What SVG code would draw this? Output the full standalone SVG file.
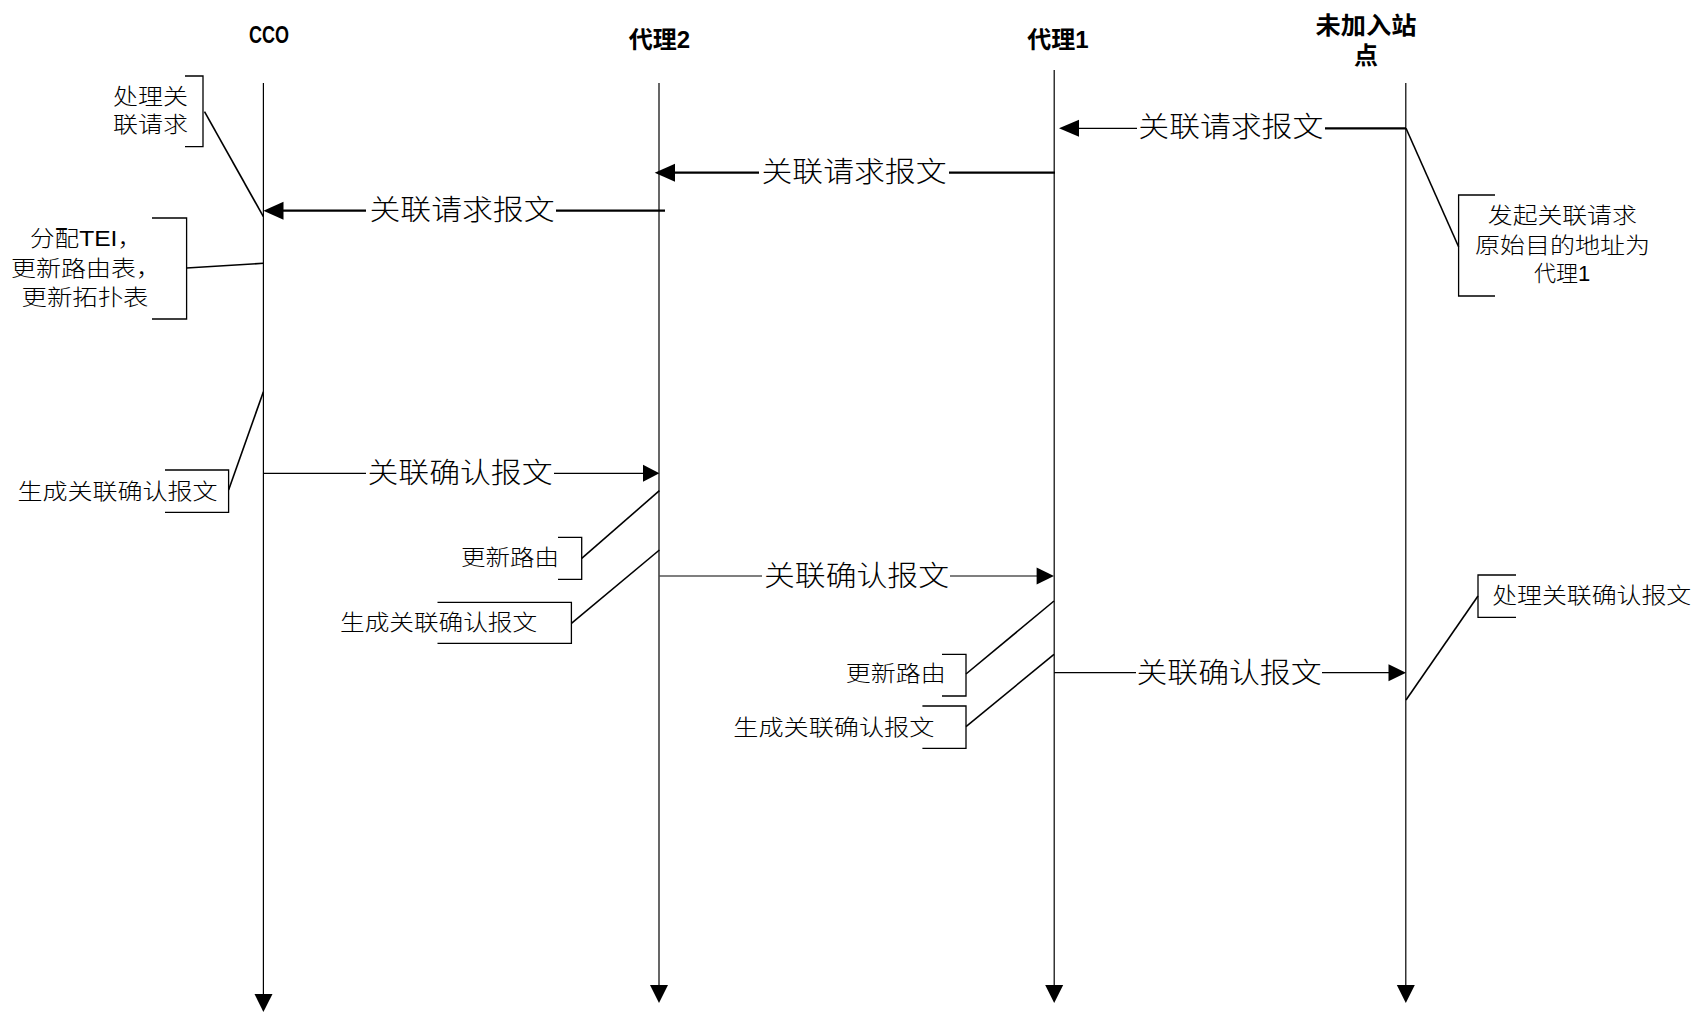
<svg xmlns="http://www.w3.org/2000/svg" width="1699" height="1025" viewBox="0 0 1699 1025">
<style>
.bg{fill:#fff}
.life{stroke:#000;stroke-width:1.2;fill:none}
.hd{font-family:"Liberation Sans","Noto Sans CJK SC",sans-serif;font-weight:bold;font-size:24px;fill:#000;text-anchor:middle}
.lb{font-family:"Liberation Sans","Noto Sans CJK SC",sans-serif;font-weight:300;font-size:22px;fill:#000;text-anchor:middle}
.ml{font-family:"Liberation Sans","Noto Sans CJK SC",sans-serif;font-weight:300;font-size:28px;fill:#000;text-anchor:middle}
.br{stroke:#000;stroke-width:1.3;fill:none}
.cn{stroke:#000;stroke-width:1.6;fill:none}
.thk{stroke:#000;stroke-width:2.2;fill:none}
.thn{stroke:#000;stroke-width:1.2;fill:none}
.ah{fill:#000;stroke:none}
</style>
<rect class="bg" x="0" y="0" width="1699" height="1025"/>

<g id="lifeline-cco">
  <text class="hd" x="269" y="43" font-size="23" textLength="40" lengthAdjust="spacingAndGlyphs">CCO</text>
  <line class="life" x1="263.4" y1="83" x2="263.4" y2="996"/>
  <polygon class="ah" points="254.5,994 272.5,994 263.4,1012"/>
</g>
<g id="lifeline-agent2">
  <text class="hd" x="659.5" y="48">代理2</text>
  <line class="life" x1="659" y1="83" x2="659" y2="987"/>
  <polygon class="ah" points="650,985 668,985 659,1003"/>
</g>
<g id="lifeline-agent1">
  <text class="hd" x="1058" y="48">代理1</text>
  <line class="life" x1="1054.2" y1="70" x2="1054.2" y2="987"/>
  <polygon class="ah" points="1045.2,985 1063.2,985 1054.2,1003"/>
</g>
<g id="lifeline-newsta">
  <text class="hd" x="1366" y="34" textLength="101" lengthAdjust="spacingAndGlyphs">未加入站</text>
  <text class="hd" x="1366" y="64">点</text>
  <line class="life" x1="1405.8" y1="83" x2="1405.8" y2="987"/>
  <polygon class="ah" points="1396.8,985 1414.8,985 1405.8,1003"/>
</g>

<g id="note-cco-process">
  <text class="lb" x="150.5" y="104.4" textLength="75" lengthAdjust="spacingAndGlyphs">处理关</text>
  <text class="lb" x="150.5" y="132.4" textLength="75" lengthAdjust="spacingAndGlyphs">联请求</text>
  <path class="br" d="M185,76 H203 V146.7 H185"/>
</g>
<g id="note-cco-assign">
  <text class="lb" x="86" y="246.4" textLength="112" lengthAdjust="spacingAndGlyphs">分配TEI，</text>
  <text class="lb" x="86" y="276.4" textLength="150" lengthAdjust="spacingAndGlyphs">更新路由表，</text>
  <text class="lb" x="85" y="305.4" textLength="127" lengthAdjust="spacingAndGlyphs">更新拓扑表</text>
  <path class="br" d="M152,218 H186.6 V319 H152"/>
</g>
<g id="note-sta-init">
  <text class="lb" x="1562.3" y="223.4" textLength="149" lengthAdjust="spacingAndGlyphs">发起关联请求</text>
  <text class="lb" x="1562.5" y="253.4" textLength="175" lengthAdjust="spacingAndGlyphs">原始目的地址为</text>
  <text class="lb" x="1562" y="281.4">代理1</text>
  <path class="br" d="M1495,195 H1458.6 V296 H1495"/>
</g>
<g id="note-cco-gen">
  <text class="lb" x="117.6" y="499.4" textLength="200" lengthAdjust="spacingAndGlyphs">生成关联确认报文</text>
  <path class="br" d="M165,470 H228.6 V512.3 H165"/>
</g>
<g id="note-agent2-route">
  <text class="lb" x="510" y="565.4" textLength="98" lengthAdjust="spacingAndGlyphs">更新路由</text>
  <path class="br" d="M558,537.3 H581.7 V579.3 H558"/>
</g>
<g id="note-agent2-gen">
  <text class="lb" x="438.6" y="630.4" textLength="197" lengthAdjust="spacingAndGlyphs">生成关联确认报文</text>
  <path class="br" d="M437.5,602.3 H571.4 V643.3 H437.5"/>
</g>
<g id="note-agent1-route">
  <text class="lb" x="895.7" y="681.4" textLength="100" lengthAdjust="spacingAndGlyphs">更新路由</text>
  <path class="br" d="M942,654.3 H966 V696 H942"/>
</g>
<g id="note-agent1-gen">
  <text class="lb" x="833.8" y="735.4" textLength="201" lengthAdjust="spacingAndGlyphs">生成关联确认报文</text>
  <path class="br" d="M922.4,706 H966 V748.3 H922.4"/>
</g>
<g id="note-sta-process">
  <text class="lb" x="1591.7" y="603.4" textLength="199" lengthAdjust="spacingAndGlyphs">处理关联确认报文</text>
  <path class="br" d="M1516,575 H1478 V617.3 H1516"/>
</g>

<g id="connectors">
  <line class="cn" x1="204.5" y1="111.7" x2="263.4" y2="216.7"/>
  <line class="cn" x1="186.6" y1="268" x2="263.4" y2="263.3"/>
  <line class="cn" x1="1406" y1="128.3" x2="1458.6" y2="246.7"/>
  <line class="cn" x1="228.6" y1="490" x2="263.4" y2="391.7"/>
  <line class="cn" x1="581.7" y1="558.3" x2="659.4" y2="490.7"/>
  <line class="cn" x1="571.4" y1="623.3" x2="659.4" y2="550"/>
  <line class="cn" x1="966" y1="674" x2="1054" y2="601"/>
  <line class="cn" x1="966" y1="726.7" x2="1054" y2="654.3"/>
  <line class="cn" x1="1406" y1="700" x2="1478" y2="596"/>

  <line class="thk" x1="1406" y1="128.3" x2="1325" y2="128.3"/>
  <line class="thn" x1="1137" y1="128.3" x2="1078" y2="128.3"/>
  <polygon class="ah" points="1059,128.3 1079,119.8 1079,136.8"/>
  <text class="ml" x="1230.8" y="137" textLength="185" lengthAdjust="spacingAndGlyphs">关联请求报文</text>

  <line class="thk" x1="1055" y1="172.7" x2="949" y2="172.7"/>
  <line class="thk" x1="759" y1="172.7" x2="674" y2="172.7"/>
  <polygon class="ah" points="654.7,172.7 675,163.7 675,181.7"/>
  <text class="ml" x="854" y="182" textLength="185" lengthAdjust="spacingAndGlyphs">关联请求报文</text>

  <line class="thk" x1="665" y1="210.7" x2="556" y2="210.7"/>
  <line class="thk" x1="366" y1="210.7" x2="282" y2="210.7"/>
  <polygon class="ah" points="263.4,210.7 283.5,201.7 283.5,219.7"/>
  <text class="ml" x="462" y="220" textLength="185" lengthAdjust="spacingAndGlyphs">关联请求报文</text>

  <line class="thn" x1="263.4" y1="473.3" x2="366" y2="473.3"/>
  <line class="thn" x1="554" y1="473.3" x2="644" y2="473.3"/>
  <polygon class="ah" points="659.4,473.3 643,464.8 643,481.8"/>
  <text class="ml" x="460" y="483" textLength="185" lengthAdjust="spacingAndGlyphs">关联确认报文</text>

  <line class="thn" x1="659.6" y1="576" x2="762" y2="576"/>
  <line class="thn" x1="950" y1="576" x2="1037" y2="576"/>
  <polygon class="ah" points="1054,576 1036.6,567.5 1036.6,584.5"/>
  <text class="ml" x="856.5" y="586" textLength="185" lengthAdjust="spacingAndGlyphs">关联确认报文</text>

  <line class="thn" x1="1054.2" y1="672.7" x2="1136" y2="672.7"/>
  <line class="thn" x1="1322" y1="672.7" x2="1389" y2="672.7"/>
  <polygon class="ah" points="1406,672.7 1388.5,664.2 1388.5,681.2"/>
  <text class="ml" x="1229" y="683" textLength="185" lengthAdjust="spacingAndGlyphs">关联确认报文</text>
</g>
</svg>
